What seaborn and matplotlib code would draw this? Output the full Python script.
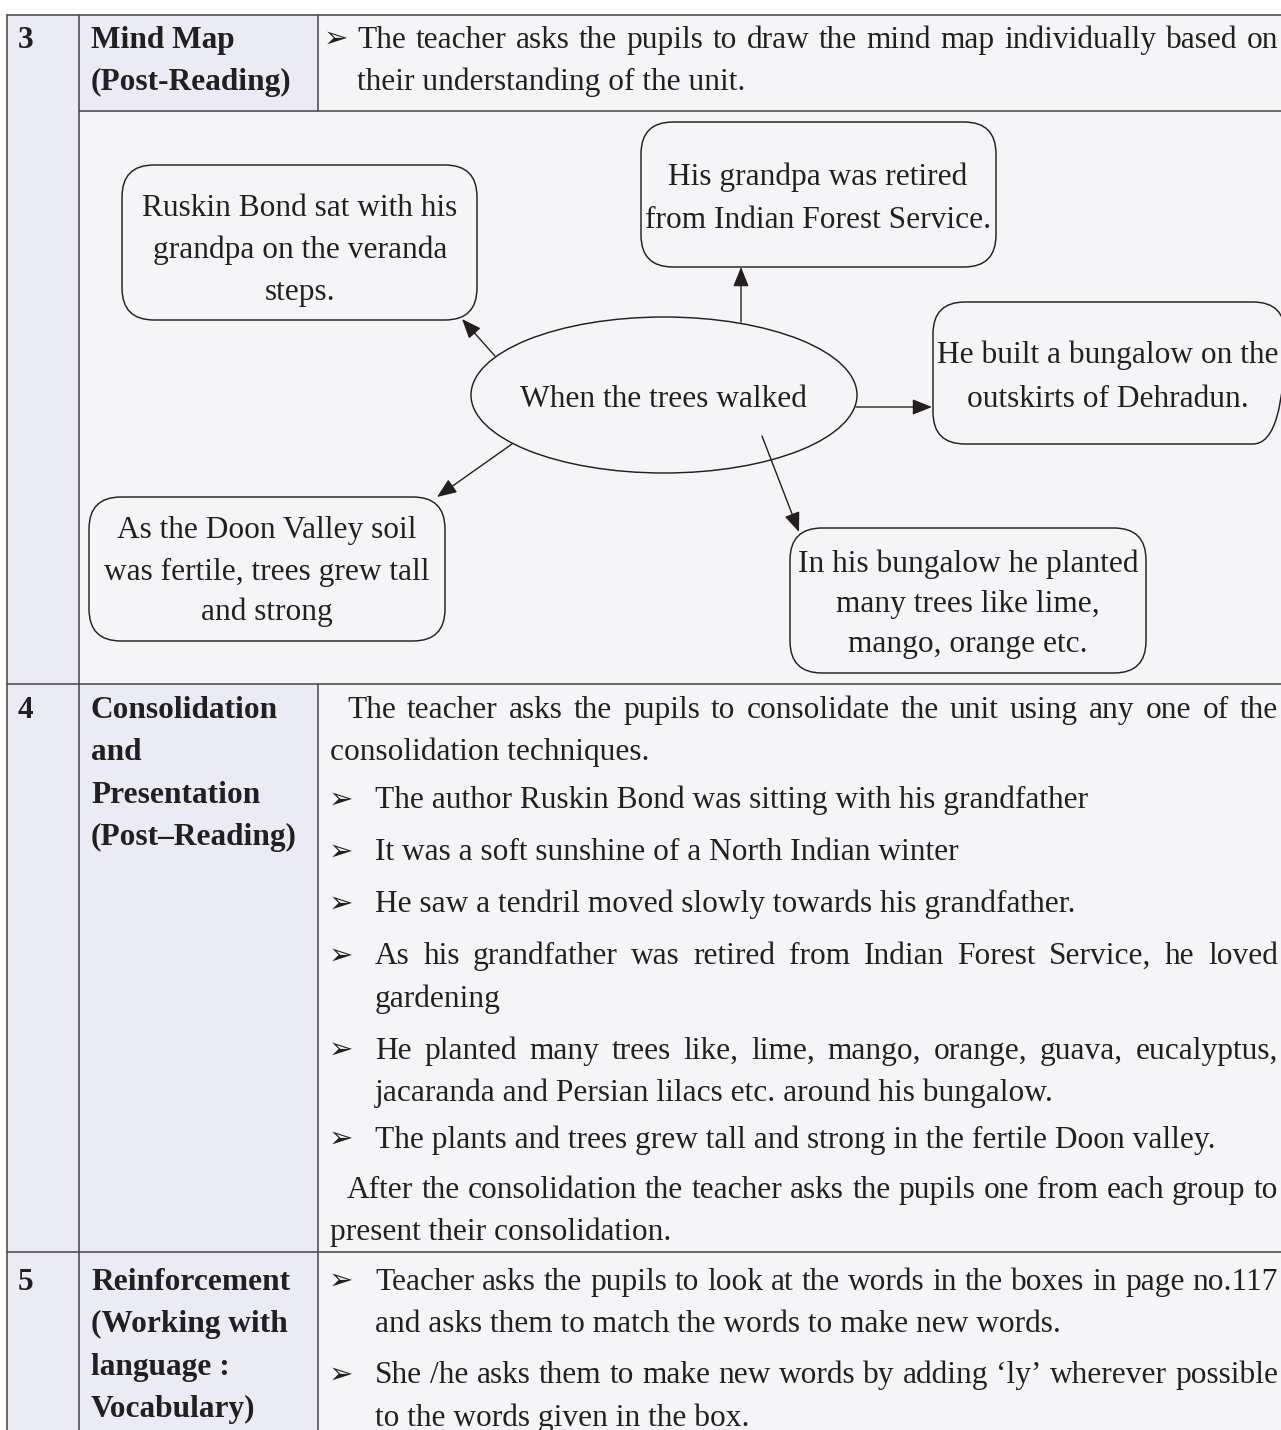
import matplotlib
matplotlib.use("Agg")
import matplotlib.pyplot as plt
import seaborn as sns
from matplotlib.patches import FancyBboxPatch, Ellipse, Rectangle, FancyArrowPatch

sns.set_theme(style="white")
plt.rcParams['font.family'] = ['Liberation Serif', 'DejaVu Sans']

# ---------------- content ----------------
row_numbers = ["3", "4", "5"]

row3_stage = ["Mind Map", "(Post-Reading)"]
row3_paragraphs = [
    ("bullet", ["The teacher asks the pupils to draw the mind map individually based on",
                "their understanding of the unit."]),
]

mind_center = "When the trees walked"
mind_nodes = [
    ["Ruskin Bond sat with his", "grandpa on the veranda", "steps."],
    ["His grandpa was retired", "from Indian Forest Service."],
    ["He built a bungalow on the", "outskirts of Dehradun."],
    ["As the Doon Valley soil", "was fertile, trees grew tall", "and strong"],
    ["In his bungalow he planted", "many trees like lime,", "mango, orange etc."],
]

row4_stage = ["Consolidation", "and", "Presentation", "(Post\u2013Reading)"]
row4_paragraphs = [
    ("para", ["The teacher asks the pupils to consolidate the unit using any one of the",
              "consolidation techniques."]),
    ("bullet", ["The author Ruskin Bond was sitting with his grandfather"]),
    ("bullet", ["It was a soft sunshine of a North Indian winter"]),
    ("bullet", ["He saw a tendril moved slowly towards his grandfather."]),
    ("bullet", ["As his grandfather was retired from Indian Forest Service, he loved",
                "gardening"]),
    ("bullet", ["He planted many trees like, lime, mango, orange, guava, eucalyptus,",
                "jacaranda and Persian lilacs etc. around his bungalow."]),
    ("bullet", ["The plants and trees grew tall and strong in the fertile Doon valley."]),
    ("para", ["After the consolidation the teacher asks the pupils one from each group to",
              "present their consolidation."]),
]

row5_stage = ["Reinforcement", "(Working with", "language :", "Vocabulary)"]
row5_paragraphs = [
    ("bullet", ["Teacher asks the pupils to look at the words in the boxes in page no.117",
                "and asks them to match the words to make new words."]),
    ("bullet", ["She /he asks them to make new words by adding \u2018ly\u2019 wherever possible",
                "to the words given in the box."]),
]

# ---------------- layout / style ----------------
W, H = 1281, 1430
LAV = "#ebebf5"
PAPER = "#f5f5f8"
LINE = "#4a4a4a"
INK = "#231f20"
FS = 22.6
LH = 42.3

fig = plt.figure(figsize=(W / 100, H / 100), dpi=100)
fig.patch.set_facecolor("white")
ax = fig.add_axes([0, 0, 1, 1])
ax.set_xlim(0, W)
ax.set_ylim(H, 0)
ax.axis("off")
sns.despine(ax=ax, left=True, bottom=True)

X_L, X_C1, X_C2, X_R = 7, 79, 318, 1283
Y_TOP, Y_R3, Y_MM, Y_R4 = 15, 111, 684, 1252

# backgrounds
ax.add_patch(Rectangle((X_L, Y_TOP), X_R - X_L, H - Y_TOP, facecolor=PAPER, edgecolor="none", zorder=0))
ax.add_patch(Rectangle((X_L, Y_TOP), X_C1 - X_L, H - Y_TOP, facecolor=LAV, edgecolor="none", zorder=0))
ax.add_patch(Rectangle((X_C1, Y_TOP), X_C2 - X_C1, Y_R3 - Y_TOP, facecolor=LAV, edgecolor="none", zorder=0))
ax.add_patch(Rectangle((X_C1, Y_MM), X_C2 - X_C1, H - Y_MM, facecolor=LAV, edgecolor="none", zorder=0))

# grid lines
lw = 1.15
ax.plot([X_L, X_R], [Y_TOP, Y_TOP], color=LINE, lw=lw, zorder=1)
ax.plot([X_C1, X_R], [Y_R3, Y_R3], color=LINE, lw=lw, zorder=1)
ax.plot([X_L, X_R], [Y_MM, Y_MM], color=LINE, lw=lw, zorder=1)
ax.plot([X_L, X_R], [Y_R4, Y_R4], color=LINE, lw=lw, zorder=1)
ax.plot([X_L, X_L], [Y_TOP, H], color=LINE, lw=lw, zorder=1)
ax.plot([X_C1, X_C1], [Y_TOP, H], color=LINE, lw=lw, zorder=1)
ax.plot([X_C2, X_C2], [Y_TOP, Y_R3], color=LINE, lw=lw, zorder=1)
ax.plot([X_C2, X_C2], [Y_MM, H], color=LINE, lw=lw, zorder=1)

renderer = fig.canvas.get_renderer()
base_kw = dict(fontsize=FS, color=INK, family=["Liberation Serif", "DejaVu Sans"], va="baseline", zorder=3)


def text_width(s, **kw):
    t = ax.text(0, 0, s, **kw)
    w = t.get_window_extent(renderer).width
    t.remove()
    return w


def draw_line(x0, x1, y, s, justify, **kw):
    k = dict(base_kw)
    k.update(kw)
    if not justify:
        ax.text(x0, y, s, ha="left", **k)
        return
    words = s.split(" ")
    widths = [text_width(w, **k) for w in words]
    gap = (x1 - x0 - sum(widths)) / (len(words) - 1)
    x = x0
    for w, wd in zip(words, widths):
        ax.text(x, y, w, ha="left", **k)
        x += wd + gap


def draw_paragraphs(paras, y0, para_gap, x_bullet, x_text, x_indent, x_plain, x_right, bullet_gaps=None):
    y = y0
    for i, (kind, lines) in enumerate(paras):
        if kind == "bullet":
            ax.text(x_bullet, y - 1, "\u27a2", fontsize=21, color=INK, family=["DejaVu Sans"],
                    ha="left", va="baseline", zorder=3)
        for j, ln in enumerate(lines):
            if kind == "bullet":
                xs = x_text
            else:
                xs = x_indent if j == 0 else x_plain
            draw_line(xs, x_right, y, ln, justify=(j < len(lines) - 1))
            if j < len(lines) - 1:
                y += LH
        if i < len(paras) - 1:
            g = para_gap if bullet_gaps is None else bullet_gaps[i]
            y += g


def draw_stage(lines, y0):
    for j, ln in enumerate(lines):
        ax.text(91, y0 + j * LH, ln, ha="left", fontweight="bold", **base_kw)


# row numbers
for num, yb in zip(row_numbers, [48, 718, 1290]):
    ax.text(18, yb, num, ha="left", fontweight="bold", **base_kw)

# row 3
draw_stage(row3_stage, 48)
draw_paragraphs(row3_paragraphs, 48, 50, 324, 357, 347, 330, 1278)

# row 4
draw_stage(row4_stage, 718)
draw_paragraphs(row4_paragraphs, 718, 50, 329, 375, 347, 330, 1278,
                bullet_gaps=[48, 52, 52, 52, 52, 47, 50])

# row 5
draw_stage(row5_stage, 1290)
draw_paragraphs(row5_paragraphs, 1290, 51, 329, 375, 347, 330, 1278)

# ---------------- mind map ----------------
ell_c, ell_w, ell_h = (664, 395), 386, 156
ax.add_patch(Ellipse(ell_c, ell_w, ell_h, facecolor="none", edgecolor=INK, lw=1.05, zorder=2))
ax.text(663, 407, mind_center, ha="center", **base_kw)

node_boxes = [  # x0, y0, x1, y1
    (122, 165, 477, 320),
    (641, 122, 996, 267),
    (933, 302, 1285, 444),
    (89, 497, 445, 641),
    (790, 528, 1146, 673),
]
node_text_x = [300, 818, 1108, 267, 968]
node_baselines = [[216, 258, 300], [185, 228], [363, 407], [538, 580, 620], [572, 612, 652]]

for (x0, y0, x1, y1), lines, tx, ybs in zip(node_boxes, mind_nodes, node_text_x, node_baselines):
    ax.add_patch(FancyBboxPatch((x0, y0), x1 - x0, y1 - y0,
                                boxstyle="round,pad=0,rounding_size=32",
                                facecolor="none", edgecolor=INK, lw=1.05, zorder=2))
    for ln, yb in zip(lines, ybs):
        ax.text(tx, yb, ln, ha="center", **base_kw)

arrows = [((495, 356), (462, 319)),
          ((741, 322), (741, 267)),
          ((856, 407), (932, 407)),
          ((512, 444), (437, 497)),
          ((762, 436), (799, 532))]
for a, b in arrows:
    ax.add_patch(FancyArrowPatch(a, b, arrowstyle="-|>,head_length=0.75,head_width=0.3",
                                 mutation_scale=16, color=INK, lw=1.0,
                                 shrinkA=0, shrinkB=0, zorder=2))

fig.savefig("out.png", dpi=100, facecolor=fig.get_facecolor())
